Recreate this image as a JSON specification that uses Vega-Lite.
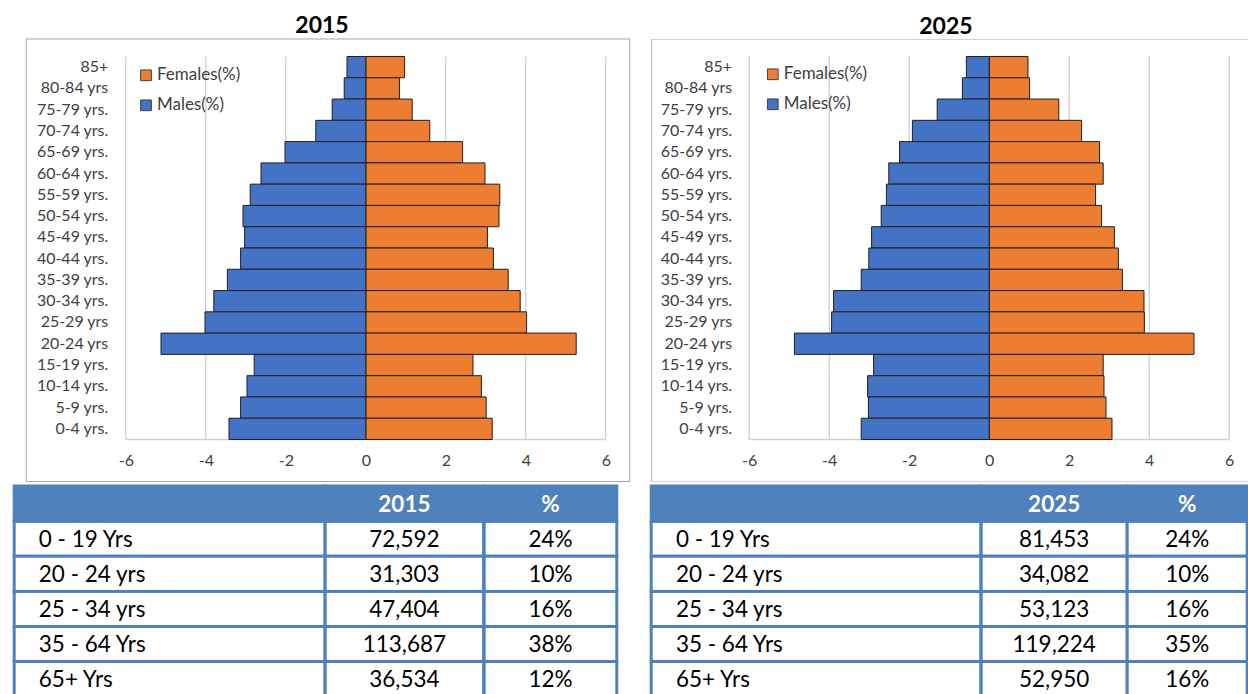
{
  "$schema": "https://vega.github.io/schema/vega-lite/v6.json",
  "background": "white",
  "padding": {"left": 12.2, "top": 15, "right": 0, "bottom": 0},
  "datasets": {
    "grid": [{"v": -6}, {"v": -4}, {"v": -2}, {"v": 2}, {"v": 4}, {"v": 6}],
    "tab": [
      {"year": 2015, "group": "0 - 19 Yrs", "count": 72592, "share": 0.24},
      {"year": 2015, "group": "20 - 24 yrs", "count": 31303, "share": 0.10},
      {"year": 2015, "group": "25 - 34 yrs", "count": 47404, "share": 0.16},
      {"year": 2015, "group": "35 - 64 Yrs", "count": 113687, "share": 0.38},
      {"year": 2015, "group": "65+ Yrs", "count": 36534, "share": 0.12},
      {"year": 2025, "group": "0 - 19 Yrs", "count": 81453, "share": 0.24},
      {"year": 2025, "group": "20 - 24 yrs", "count": 34082, "share": 0.10},
      {"year": 2025, "group": "25 - 34 yrs", "count": 53123, "share": 0.16},
      {"year": 2025, "group": "35 - 64 Yrs", "count": 119224, "share": 0.35},
      {"year": 2025, "group": "65+ Yrs", "count": 52950, "share": 0.16}
    ],
    "pyr": [
      {"year": 2015, "age": "85+", "sex": "Females(%)", "pct": 0.97},
      {"year": 2015, "age": "80-84 yrs", "sex": "Females(%)", "pct": 0.84},
      {"year": 2015, "age": "75-79 yrs.", "sex": "Females(%)", "pct": 1.16},
      {"year": 2015, "age": "70-74 yrs.", "sex": "Females(%)", "pct": 1.6},
      {"year": 2015, "age": "65-69 yrs.", "sex": "Females(%)", "pct": 2.42},
      {"year": 2015, "age": "60-64 yrs.", "sex": "Females(%)", "pct": 2.98},
      {"year": 2015, "age": "55-59 yrs.", "sex": "Females(%)", "pct": 3.35},
      {"year": 2015, "age": "50-54 yrs.", "sex": "Females(%)", "pct": 3.33},
      {"year": 2015, "age": "45-49 yrs.", "sex": "Females(%)", "pct": 3.04},
      {"year": 2015, "age": "40-44 yrs.", "sex": "Females(%)", "pct": 3.19},
      {"year": 2015, "age": "35-39 yrs.", "sex": "Females(%)", "pct": 3.56},
      {"year": 2015, "age": "30-34 yrs.", "sex": "Females(%)", "pct": 3.86},
      {"year": 2015, "age": "25-29 yrs", "sex": "Females(%)", "pct": 4.02},
      {"year": 2015, "age": "20-24 yrs", "sex": "Females(%)", "pct": 5.26},
      {"year": 2015, "age": "15-19 yrs.", "sex": "Females(%)", "pct": 2.68},
      {"year": 2015, "age": "10-14 yrs.", "sex": "Females(%)", "pct": 2.89},
      {"year": 2015, "age": "5-9 yrs.", "sex": "Females(%)", "pct": 3.01},
      {"year": 2015, "age": "0-4 yrs.", "sex": "Females(%)", "pct": 3.16},
      {"year": 2015, "age": "85+", "sex": "Males(%)", "pct": -0.47},
      {"year": 2015, "age": "80-84 yrs", "sex": "Males(%)", "pct": -0.54},
      {"year": 2015, "age": "75-79 yrs.", "sex": "Males(%)", "pct": -0.84},
      {"year": 2015, "age": "70-74 yrs.", "sex": "Males(%)", "pct": -1.25},
      {"year": 2015, "age": "65-69 yrs.", "sex": "Males(%)", "pct": -2.02},
      {"year": 2015, "age": "60-64 yrs.", "sex": "Males(%)", "pct": -2.62},
      {"year": 2015, "age": "55-59 yrs.", "sex": "Males(%)", "pct": -2.89},
      {"year": 2015, "age": "50-54 yrs.", "sex": "Males(%)", "pct": -3.07},
      {"year": 2015, "age": "45-49 yrs.", "sex": "Males(%)", "pct": -3.03},
      {"year": 2015, "age": "40-44 yrs.", "sex": "Males(%)", "pct": -3.13},
      {"year": 2015, "age": "35-39 yrs.", "sex": "Males(%)", "pct": -3.46},
      {"year": 2015, "age": "30-34 yrs.", "sex": "Males(%)", "pct": -3.8},
      {"year": 2015, "age": "25-29 yrs", "sex": "Males(%)", "pct": -4.02},
      {"year": 2015, "age": "20-24 yrs", "sex": "Males(%)", "pct": -5.12},
      {"year": 2015, "age": "15-19 yrs.", "sex": "Males(%)", "pct": -2.79},
      {"year": 2015, "age": "10-14 yrs.", "sex": "Males(%)", "pct": -2.97},
      {"year": 2015, "age": "5-9 yrs.", "sex": "Males(%)", "pct": -3.13},
      {"year": 2015, "age": "0-4 yrs.", "sex": "Males(%)", "pct": -3.42},
      {"year": 2025, "age": "85+", "sex": "Females(%)", "pct": 0.97},
      {"year": 2025, "age": "80-84 yrs", "sex": "Females(%)", "pct": 1.01},
      {"year": 2025, "age": "75-79 yrs.", "sex": "Females(%)", "pct": 1.74},
      {"year": 2025, "age": "70-74 yrs.", "sex": "Females(%)", "pct": 2.31},
      {"year": 2025, "age": "65-69 yrs.", "sex": "Females(%)", "pct": 2.76},
      {"year": 2025, "age": "60-64 yrs.", "sex": "Females(%)", "pct": 2.85},
      {"year": 2025, "age": "55-59 yrs.", "sex": "Females(%)", "pct": 2.66},
      {"year": 2025, "age": "50-54 yrs.", "sex": "Females(%)", "pct": 2.81},
      {"year": 2025, "age": "45-49 yrs.", "sex": "Females(%)", "pct": 3.13},
      {"year": 2025, "age": "40-44 yrs.", "sex": "Females(%)", "pct": 3.23},
      {"year": 2025, "age": "35-39 yrs.", "sex": "Females(%)", "pct": 3.33},
      {"year": 2025, "age": "30-34 yrs.", "sex": "Females(%)", "pct": 3.87},
      {"year": 2025, "age": "25-29 yrs", "sex": "Females(%)", "pct": 3.88},
      {"year": 2025, "age": "20-24 yrs", "sex": "Females(%)", "pct": 5.12},
      {"year": 2025, "age": "15-19 yrs.", "sex": "Females(%)", "pct": 2.85},
      {"year": 2025, "age": "10-14 yrs.", "sex": "Females(%)", "pct": 2.87},
      {"year": 2025, "age": "5-9 yrs.", "sex": "Females(%)", "pct": 2.92},
      {"year": 2025, "age": "0-4 yrs.", "sex": "Females(%)", "pct": 3.07},
      {"year": 2025, "age": "85+", "sex": "Males(%)", "pct": -0.57},
      {"year": 2025, "age": "80-84 yrs", "sex": "Males(%)", "pct": -0.67},
      {"year": 2025, "age": "75-79 yrs.", "sex": "Males(%)", "pct": -1.3},
      {"year": 2025, "age": "70-74 yrs.", "sex": "Males(%)", "pct": -1.92},
      {"year": 2025, "age": "65-69 yrs.", "sex": "Males(%)", "pct": -2.24},
      {"year": 2025, "age": "60-64 yrs.", "sex": "Males(%)", "pct": -2.51},
      {"year": 2025, "age": "55-59 yrs.", "sex": "Males(%)", "pct": -2.57},
      {"year": 2025, "age": "50-54 yrs.", "sex": "Males(%)", "pct": -2.7},
      {"year": 2025, "age": "45-49 yrs.", "sex": "Males(%)", "pct": -2.94},
      {"year": 2025, "age": "40-44 yrs.", "sex": "Males(%)", "pct": -3.01},
      {"year": 2025, "age": "35-39 yrs.", "sex": "Males(%)", "pct": -3.2},
      {"year": 2025, "age": "30-34 yrs.", "sex": "Males(%)", "pct": -3.89},
      {"year": 2025, "age": "25-29 yrs", "sex": "Males(%)", "pct": -3.94},
      {"year": 2025, "age": "20-24 yrs", "sex": "Males(%)", "pct": -4.87},
      {"year": 2025, "age": "15-19 yrs.", "sex": "Males(%)", "pct": -2.89},
      {"year": 2025, "age": "10-14 yrs.", "sex": "Males(%)", "pct": -3.04},
      {"year": 2025, "age": "5-9 yrs.", "sex": "Males(%)", "pct": -3.02},
      {"year": 2025, "age": "0-4 yrs.", "sex": "Males(%)", "pct": -3.2}
    ]
  },
  "spacing": 18,
  "resolve": {"scale": {"color": "independent"}, "legend": {"color": "independent"}},
  "hconcat": [
    {
      "spacing": 2.1,
      "resolve": {"scale": {"color": "independent"}, "legend": {"color": "independent"}},
      "vconcat": [
        {
          "title": {"text": "2015", "font": "Lato", "fontSize": 23, "fontWeight": "bold", "color": "#000000", "baseline": "alphabetic", "offset": -17.6, "anchor": "middle"},
          "width": 615.6,
          "height": 442.5,
          "layer": [
            {
              "data": {"values": [{}]},
              "mark": {"type": "rect", "filled": false, "color": "#A6A6A6", "strokeWidth": 1},
              "encoding": {
                "x": {"datum": -8.49, "type": "quantitative", "scale": {"domain": [-8.79, 6.6], "nice": false},
                  "axis": {"orient": "bottom", "offset": -42, "values": [-6, -4, -2, 0, 2, 4, 6], "domain": false, "ticks": false, "grid": false, "labelPadding": 13, "labelFont": "Lato", "labelFontSize": 16, "labelColor": "#404040", "title": null, "labelExpr": "'' + datum.value", "labelFlush": false}},
                "x2": {"datum": 6.6}
              }
            },
            {
              "data": {"name": "grid"},
              "mark": {"type": "rule", "color": "#C0C0C0", "strokeWidth": 1, "yOffset": -10.64, "y2Offset": 10.64},
              "encoding": {
                "x": {"field": "v", "type": "quantitative", "scale": {"domain": [-8.79, 6.6], "nice": false},
                  "axis": {"orient": "bottom", "offset": -42, "values": [-6, -4, -2, 0, 2, 4, 6], "domain": false, "ticks": false, "grid": false, "labelPadding": 13, "labelFont": "Lato", "labelFontSize": 16, "labelColor": "#404040", "title": null, "labelExpr": "'' + datum.value", "labelFlush": false}},
                "y": {"datum": "85+", "type": "nominal", "scale": {"domain": ["85+","80-84 yrs","75-79 yrs.","70-74 yrs.","65-69 yrs.","60-64 yrs.","55-59 yrs.","50-54 yrs.","45-49 yrs.","40-44 yrs.","35-39 yrs.","30-34 yrs.","25-29 yrs","20-24 yrs","15-19 yrs.","10-14 yrs.","5-9 yrs.","0-4 yrs."], "range": [17.5, 400.5], "paddingInner": 0, "paddingOuter": 0},
                  "axis": {"orient": "left", "offset": -93.6, "domain": false, "ticks": false, "grid": false, "labelPadding": 0, "labelFont": "Lato", "labelFontSize": 16, "labelColor": "#404040", "title": null}},
                "y2": {"datum": "0-4 yrs."}
              }
            },
            {
              "data": {"values": [{}]},
              "mark": {"type": "rule", "color": "#D0D0D0", "strokeWidth": 1.5, "yOffset": 10.64},
              "encoding": {
                "x": {"datum": -6, "type": "quantitative", "scale": {"domain": [-8.79, 6.6], "nice": false},
                  "axis": {"orient": "bottom", "offset": -42, "values": [-6, -4, -2, 0, 2, 4, 6], "domain": false, "ticks": false, "grid": false, "labelPadding": 13, "labelFont": "Lato", "labelFontSize": 16, "labelColor": "#404040", "title": null, "labelExpr": "'' + datum.value", "labelFlush": false}},
                "x2": {"datum": 6},
                "y": {"datum": "0-4 yrs.", "type": "nominal", "scale": {"domain": ["85+","80-84 yrs","75-79 yrs.","70-74 yrs.","65-69 yrs.","60-64 yrs.","55-59 yrs.","50-54 yrs.","45-49 yrs.","40-44 yrs.","35-39 yrs.","30-34 yrs.","25-29 yrs","20-24 yrs","15-19 yrs.","10-14 yrs.","5-9 yrs.","0-4 yrs."], "range": [17.5, 400.5], "paddingInner": 0, "paddingOuter": 0},
                  "axis": {"orient": "left", "offset": -93.6, "domain": false, "ticks": false, "grid": false, "labelPadding": 0, "labelFont": "Lato", "labelFontSize": 16, "labelColor": "#404040", "title": null}}
              }
            },
            {
              "data": {"name": "pyr"},
              "transform": [{"filter": "datum.year == 2015"}],
              "mark": {"type": "bar", "stroke": "#1f1f1f", "strokeWidth": 1},
              "encoding": {
                "y": {"field": "age", "type": "nominal", "scale": {"domain": ["85+","80-84 yrs","75-79 yrs.","70-74 yrs.","65-69 yrs.","60-64 yrs.","55-59 yrs.","50-54 yrs.","45-49 yrs.","40-44 yrs.","35-39 yrs.","30-34 yrs.","25-29 yrs","20-24 yrs","15-19 yrs.","10-14 yrs.","5-9 yrs.","0-4 yrs."], "range": [17.5, 400.5], "paddingInner": 0, "paddingOuter": 0},
                  "axis": {"orient": "left", "offset": -93.6, "domain": false, "ticks": false, "grid": false, "labelPadding": 0, "labelFont": "Lato", "labelFontSize": 16, "labelColor": "#404040", "title": null}},
                "x": {"field": "pct", "type": "quantitative", "scale": {"domain": [-8.79, 6.6], "nice": false},
                  "axis": {"orient": "bottom", "offset": -42, "values": [-6, -4, -2, 0, 2, 4, 6], "domain": false, "ticks": false, "grid": false, "labelPadding": 13, "labelFont": "Lato", "labelFontSize": 16, "labelColor": "#404040", "title": null, "labelExpr": "'' + datum.value", "labelFlush": false}},
                "x2": {"datum": 0},
                "color": {"field": "sex", "type": "nominal", "scale": {"domain": ["Females(%)", "Males(%)"], "range": ["#ED7D31", "#4472C4"]},
                  "legend": {"orient": "none", "legendX": 123.3, "legendY": 27.8, "title": null, "symbolType": "square", "symbolSize": 115, "symbolStrokeColor": "#404040", "symbolStrokeWidth": 1, "labelFont": "Lato", "labelFontSize": 17, "labelColor": "#404040", "rowPadding": 12, "labelOffset": 2.5, "padding": 0}}
              }
            }
          ]
        },
        {
          "spacing": 0,
          "bounds": "flush",
          "hconcat": [
            {
              "width": 310.8,
              "height": 210.6,
              "encoding": {"y": {"field": "group", "type": "nominal", "scale": {"domain": ["header","0 - 19 Yrs","20 - 24 yrs","25 - 34 yrs","35 - 64 Yrs","65+ Yrs"], "paddingInner": 0, "paddingOuter": 0}, "axis": null}},
              "layer": [
                {"data": {"name": "tab"}, "transform": [{"filter": "datum.year == 2015"}], "mark": {"type": "rect", "fill": "#FFFFFF", "stroke": "#4F81BD", "strokeWidth": 3}},
                {"data": {"values": [{"group": "header"}]}, "mark": {"type": "rect", "fill": "#4F81BD", "stroke": "#4F81BD", "strokeWidth": 3}},
                {"data": {"name": "tab"}, "transform": [{"filter": "datum.year == 2015"}], "mark": {"type": "text", "align": "left", "dx": 24.6, "dy": 1, "font": "Lato", "fontSize": 22.5, "color": "#000000"}, "encoding": {"x": {"value": 0}, "text": {"field": "group"}}}
              ]
            },
            {
              "width": 158.4,
              "height": 210.6,
              "encoding": {"y": {"field": "group", "type": "nominal", "scale": {"domain": ["header","0 - 19 Yrs","20 - 24 yrs","25 - 34 yrs","35 - 64 Yrs","65+ Yrs"], "paddingInner": 0, "paddingOuter": 0}, "axis": null}},
              "layer": [
                {"data": {"name": "tab"}, "transform": [{"filter": "datum.year == 2015"}], "mark": {"type": "rect", "fill": "#FFFFFF", "stroke": "#4F81BD", "strokeWidth": 3}},
                {"data": {"values": [{"group": "header", "label": "2015"}]}, "layer": [
                  {"mark": {"type": "rect", "fill": "#4F81BD", "stroke": "#4F81BD", "strokeWidth": 3}},
                  {"mark": {"type": "text", "dy": 1.4, "font": "Lato", "fontSize": 22.5, "fontWeight": "bold", "color": "#FFFFFF"}, "encoding": {"text": {"field": "label"}}}
                ]},
                {"data": {"name": "tab"}, "transform": [{"filter": "datum.year == 2015"}], "mark": {"type": "text", "dy": 1, "font": "Lato", "fontSize": 22.5, "color": "#000000"}, "encoding": {"text": {"field": "count", "type": "quantitative", "format": ",d"}}}
              ]
            },
            {
              "width": 132.6,
              "height": 210.6,
              "encoding": {"y": {"field": "group", "type": "nominal", "scale": {"domain": ["header","0 - 19 Yrs","20 - 24 yrs","25 - 34 yrs","35 - 64 Yrs","65+ Yrs"], "paddingInner": 0, "paddingOuter": 0}, "axis": null}},
              "layer": [
                {"data": {"name": "tab"}, "transform": [{"filter": "datum.year == 2015"}], "mark": {"type": "rect", "fill": "#FFFFFF", "stroke": "#4F81BD", "strokeWidth": 3}},
                {"data": {"values": [{"group": "header", "label": "%"}]}, "layer": [
                  {"mark": {"type": "rect", "fill": "#4F81BD", "stroke": "#4F81BD", "strokeWidth": 3}},
                  {"mark": {"type": "text", "dy": 1.4, "font": "Lato", "fontSize": 22.5, "fontWeight": "bold", "color": "#FFFFFF"}, "encoding": {"text": {"field": "label"}}}
                ]},
                {"data": {"name": "tab"}, "transform": [{"filter": "datum.year == 2015"}], "mark": {"type": "text", "dy": 1, "font": "Lato", "fontSize": 22.5, "color": "#000000"}, "encoding": {"text": {"field": "share", "type": "quantitative", "format": ".0%"}}}
              ]
            }
          ]
        }
      ]
    },
    {
      "spacing": 2.1,
      "resolve": {"scale": {"color": "independent"}, "legend": {"color": "independent"}},
      "vconcat": [
        {
          "title": {"text": "2025", "font": "Lato", "fontSize": 23, "fontWeight": "bold", "color": "#000000", "baseline": "alphabetic", "offset": -17.6, "anchor": "middle", "dx": -3.6},
          "width": 596.7,
          "height": 442.5,
          "layer": [
            {
              "data": {"values": [{}]},
              "mark": {"type": "rect", "filled": false, "color": "#A6A6A6", "strokeWidth": 1, "clip": true},
              "encoding": {
                "x": {"datum": -8.44, "type": "quantitative", "scale": {"domain": [-8.45, 6.4675], "nice": false},
                  "axis": {"orient": "bottom", "offset": -42, "values": [-6, -4, -2, 0, 2, 4, 6], "domain": false, "ticks": false, "grid": false, "labelPadding": 13, "labelFont": "Lato", "labelFontSize": 16, "labelColor": "#404040", "title": null, "labelExpr": "'' + datum.value", "labelFlush": false}},
                "x2": {"datum": 7.2}
              }
            },
            {
              "data": {"name": "grid"},
              "mark": {"type": "rule", "color": "#C0C0C0", "strokeWidth": 1, "yOffset": -10.64, "y2Offset": 10.64},
              "encoding": {
                "x": {"field": "v", "type": "quantitative", "scale": {"domain": [-8.45, 6.4675], "nice": false},
                  "axis": {"orient": "bottom", "offset": -42, "values": [-6, -4, -2, 0, 2, 4, 6], "domain": false, "ticks": false, "grid": false, "labelPadding": 13, "labelFont": "Lato", "labelFontSize": 16, "labelColor": "#404040", "title": null, "labelExpr": "'' + datum.value", "labelFlush": false}},
                "y": {"datum": "85+", "type": "nominal", "scale": {"domain": ["85+","80-84 yrs","75-79 yrs.","70-74 yrs.","65-69 yrs.","60-64 yrs.","55-59 yrs.","50-54 yrs.","45-49 yrs.","40-44 yrs.","35-39 yrs.","30-34 yrs.","25-29 yrs","20-24 yrs","15-19 yrs.","10-14 yrs.","5-9 yrs.","0-4 yrs."], "range": [17.5, 400.5], "paddingInner": 0, "paddingOuter": 0},
                  "axis": {"orient": "left", "offset": -80.4, "domain": false, "ticks": false, "grid": false, "labelPadding": 0, "labelFont": "Lato", "labelFontSize": 16, "labelColor": "#404040", "title": null}},
                "y2": {"datum": "0-4 yrs."}
              }
            },
            {
              "data": {"values": [{}]},
              "mark": {"type": "rule", "color": "#D0D0D0", "strokeWidth": 1.5, "yOffset": 10.64},
              "encoding": {
                "x": {"datum": -6, "type": "quantitative", "scale": {"domain": [-8.45, 6.4675], "nice": false},
                  "axis": {"orient": "bottom", "offset": -42, "values": [-6, -4, -2, 0, 2, 4, 6], "domain": false, "ticks": false, "grid": false, "labelPadding": 13, "labelFont": "Lato", "labelFontSize": 16, "labelColor": "#404040", "title": null, "labelExpr": "'' + datum.value", "labelFlush": false}},
                "x2": {"datum": 6},
                "y": {"datum": "0-4 yrs.", "type": "nominal", "scale": {"domain": ["85+","80-84 yrs","75-79 yrs.","70-74 yrs.","65-69 yrs.","60-64 yrs.","55-59 yrs.","50-54 yrs.","45-49 yrs.","40-44 yrs.","35-39 yrs.","30-34 yrs.","25-29 yrs","20-24 yrs","15-19 yrs.","10-14 yrs.","5-9 yrs.","0-4 yrs."], "range": [17.5, 400.5], "paddingInner": 0, "paddingOuter": 0},
                  "axis": {"orient": "left", "offset": -80.4, "domain": false, "ticks": false, "grid": false, "labelPadding": 0, "labelFont": "Lato", "labelFontSize": 16, "labelColor": "#404040", "title": null}}
              }
            },
            {
              "data": {"name": "pyr"},
              "transform": [{"filter": "datum.year == 2025"}],
              "mark": {"type": "bar", "stroke": "#1f1f1f", "strokeWidth": 1},
              "encoding": {
                "y": {"field": "age", "type": "nominal", "scale": {"domain": ["85+","80-84 yrs","75-79 yrs.","70-74 yrs.","65-69 yrs.","60-64 yrs.","55-59 yrs.","50-54 yrs.","45-49 yrs.","40-44 yrs.","35-39 yrs.","30-34 yrs.","25-29 yrs","20-24 yrs","15-19 yrs.","10-14 yrs.","5-9 yrs.","0-4 yrs."], "range": [17.5, 400.5], "paddingInner": 0, "paddingOuter": 0},
                  "axis": {"orient": "left", "offset": -80.4, "domain": false, "ticks": false, "grid": false, "labelPadding": 0, "labelFont": "Lato", "labelFontSize": 16, "labelColor": "#404040", "title": null}},
                "x": {"field": "pct", "type": "quantitative", "scale": {"domain": [-8.45, 6.4675], "nice": false},
                  "axis": {"orient": "bottom", "offset": -42, "values": [-6, -4, -2, 0, 2, 4, 6], "domain": false, "ticks": false, "grid": false, "labelPadding": 13, "labelFont": "Lato", "labelFontSize": 16, "labelColor": "#404040", "title": null, "labelExpr": "'' + datum.value", "labelFlush": false}},
                "x2": {"datum": 0},
                "color": {"field": "sex", "type": "nominal", "scale": {"domain": ["Females(%)", "Males(%)"], "range": ["#ED7D31", "#4472C4"]},
                  "legend": {"orient": "none", "legendX": 113.1, "legendY": 26.8, "title": null, "symbolType": "square", "symbolSize": 115, "symbolStrokeColor": "#404040", "symbolStrokeWidth": 1, "labelFont": "Lato", "labelFontSize": 17, "labelColor": "#404040", "rowPadding": 12, "labelOffset": 2.5, "padding": 0}}
              }
            }
          ]
        },
        {
          "spacing": 0,
          "bounds": "flush",
          "hconcat": [
            {
              "width": 329.7,
              "height": 210.6,
              "encoding": {"y": {"field": "group", "type": "nominal", "scale": {"domain": ["header","0 - 19 Yrs","20 - 24 yrs","25 - 34 yrs","35 - 64 Yrs","65+ Yrs"], "paddingInner": 0, "paddingOuter": 0}, "axis": null}},
              "layer": [
                {"data": {"name": "tab"}, "transform": [{"filter": "datum.year == 2025"}], "mark": {"type": "rect", "fill": "#FFFFFF", "stroke": "#4F81BD", "strokeWidth": 3}},
                {"data": {"values": [{"group": "header"}]}, "mark": {"type": "rect", "fill": "#4F81BD", "stroke": "#4F81BD", "strokeWidth": 3}},
                {"data": {"name": "tab"}, "transform": [{"filter": "datum.year == 2025"}], "mark": {"type": "text", "align": "left", "dx": 24.7, "dy": 1, "font": "Lato", "fontSize": 22.5, "color": "#000000"}, "encoding": {"x": {"value": 0}, "text": {"field": "group"}}}
              ]
            },
            {
              "width": 146,
              "height": 210.6,
              "encoding": {"y": {"field": "group", "type": "nominal", "scale": {"domain": ["header","0 - 19 Yrs","20 - 24 yrs","25 - 34 yrs","35 - 64 Yrs","65+ Yrs"], "paddingInner": 0, "paddingOuter": 0}, "axis": null}},
              "layer": [
                {"data": {"name": "tab"}, "transform": [{"filter": "datum.year == 2025"}], "mark": {"type": "rect", "fill": "#FFFFFF", "stroke": "#4F81BD", "strokeWidth": 3}},
                {"data": {"values": [{"group": "header", "label": "2025"}]}, "layer": [
                  {"mark": {"type": "rect", "fill": "#4F81BD", "stroke": "#4F81BD", "strokeWidth": 3}},
                  {"mark": {"type": "text", "dy": 1.4, "font": "Lato", "fontSize": 22.5, "fontWeight": "bold", "color": "#FFFFFF"}, "encoding": {"text": {"field": "label"}}}
                ]},
                {"data": {"name": "tab"}, "transform": [{"filter": "datum.year == 2025"}], "mark": {"type": "text", "dy": 1, "font": "Lato", "fontSize": 22.5, "color": "#000000"}, "encoding": {"text": {"field": "count", "type": "quantitative", "format": ",d"}}}
              ]
            },
            {
              "width": 120,
              "height": 210.6,
              "encoding": {"y": {"field": "group", "type": "nominal", "scale": {"domain": ["header","0 - 19 Yrs","20 - 24 yrs","25 - 34 yrs","35 - 64 Yrs","65+ Yrs"], "paddingInner": 0, "paddingOuter": 0}, "axis": null}},
              "layer": [
                {"data": {"name": "tab"}, "transform": [{"filter": "datum.year == 2025"}], "mark": {"type": "rect", "fill": "#FFFFFF", "stroke": "#4F81BD", "strokeWidth": 3}},
                {"data": {"values": [{"group": "header", "label": "%"}]}, "layer": [
                  {"mark": {"type": "rect", "fill": "#4F81BD", "stroke": "#4F81BD", "strokeWidth": 3}},
                  {"mark": {"type": "text", "dy": 1.4, "font": "Lato", "fontSize": 22.5, "fontWeight": "bold", "color": "#FFFFFF"}, "encoding": {"text": {"field": "label"}}}
                ]},
                {"data": {"name": "tab"}, "transform": [{"filter": "datum.year == 2025"}], "mark": {"type": "text", "dy": 1, "font": "Lato", "fontSize": 22.5, "color": "#000000"}, "encoding": {"text": {"field": "share", "type": "quantitative", "format": ".0%"}}}
              ]
            }
          ]
        }
      ]
    }
  ],
  "config": {"view": {"stroke": null}, "font": "Lato"}
}
